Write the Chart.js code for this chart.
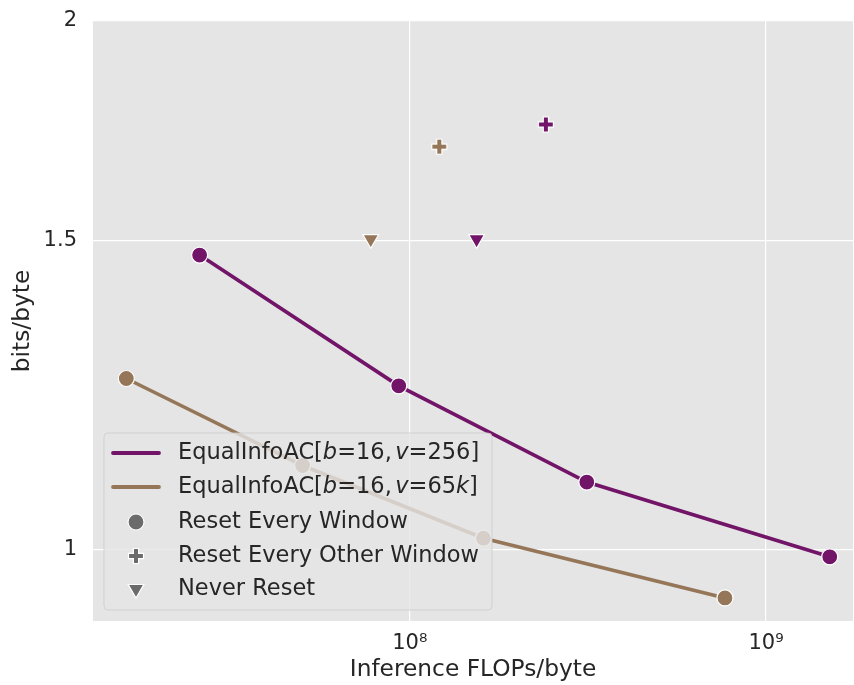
<!DOCTYPE html>
<html>
<head>
<meta charset="utf-8">
<script src="https://cdn.jsdelivr.net/npm/chart.js@4.4.0/dist/chart.umd.min.js"></script>
<style>
  html, body { margin: 0; padding: 0; background: #fff; }
  #wrap { width: 854px; height: 685px; }
</style>
</head>
<body>
<div id="wrap"><canvas id="chart" width="854" height="685"></canvas></div>
<script>
// --- data ---
const flops256 = [2.57e7, 9.31e7, 3.14e8, 1.51e9];
const bpb256 = [1.471, 1.239, 1.092, 0.990];
const flops65k = [1.60e7, 5.0e7, 1.61e8, 7.67e8];
const bpb65k = [1.251, 1.116, 1.0145, 0.938];

const otherFlops256 = [2.41e8];
const otherBpb256 = [1.746];
const otherFlops65k = [1.21e8];
const otherBpb65k = [1.696];

const neverFlops256 = [1.54e8];
const neverBpb256 = [1.502];
const neverFlops65k = [7.77e7];
const neverBpb65k = [1.502];

const yTicks = [1, 1.5, 2];
const yTickLabels = ['1', '1.5', '2'];
const xTicks = [1e8, 1e9];
const xTickLabels = ['10\u2078', '10\u2079'];

// legend texts: [text, italic?, gap after]
const legendSeries256 = [['EqualInfoAC[', false, 0], ['b', true, 0], ['=16,', false, 3.5], ['v', true, 0], ['=256]', false, 0]];
const legendSeries65k = [['EqualInfoAC[', false, 0], ['b', true, 0], ['=16,', false, 3.5], ['v', true, 0], ['=65', false, 0], ['k', true, 0], [']', false, 0]];
const legendMarkers = ['Reset Every Window', 'Reset Every Other Window', 'Never Reset'];

const PURPLE = '#721468';
const BROWN = '#957659';
const GREY = '#6b6b6b';
const TEXT = '#262626';
const FONT = "'DejaVu Sans', sans-serif";
const LEGEND_SIZE = 22.5;

// filled plus marker with white edge
function makePlus(color) {
    const c = document.createElement('canvas');
    c.width = 22; c.height = 22;
    const g = c.getContext('2d');
    const a = 7.5, t = 2.6, m = 11;
    g.beginPath();
    g.moveTo(m - t, m - a); g.lineTo(m + t, m - a); g.lineTo(m + t, m - t);
    g.lineTo(m + a, m - t); g.lineTo(m + a, m + t); g.lineTo(m + t, m + t);
    g.lineTo(m + t, m + a); g.lineTo(m - t, m + a); g.lineTo(m - t, m + t);
    g.lineTo(m - a, m + t); g.lineTo(m - a, m - t); g.lineTo(m - t, m - t);
    g.closePath();
    g.fillStyle = color;
    g.fill();
    g.strokeStyle = '#ffffff';
    g.lineWidth = 1.2;
    g.stroke();
    return c;
}

function pts(xs, ys) {
    return xs.map((x, i) => ({ x: x, y: ys[i] }));
}

function lineSet(xs, ys, color) {
    return {
        data: pts(xs, ys),
        showLine: true,
        borderColor: color,
        borderWidth: 3.6,
        backgroundColor: color,
        pointBackgroundColor: color,
        pointBorderColor: '#ffffff',
        pointBorderWidth: 1.2,
        pointRadius: 8,
        pointStyle: 'circle',
        order: 2
    };
}

function markerSet(xs, ys, color, style, radius, rotation) {
    return {
        data: pts(xs, ys),
        showLine: false,
        backgroundColor: color,
        pointBackgroundColor: color,
        pointBorderColor: '#ffffff',
        pointBorderWidth: 1.2,
        pointRadius: radius,
        pointStyle: style,
        rotation: rotation || 0,
        order: 1
    };
}

// grey axes background
const bgPlugin = {
    id: 'bg',
    beforeDraw(chart) {
        const { ctx, chartArea: a } = chart;
        ctx.save();
        ctx.fillStyle = '#e5e5e5';
        ctx.fillRect(a.left, a.top, a.right - a.left, a.bottom - a.top);
        ctx.restore();
    }
};

function drawPieces(ctx, pieces, x, y) {
    let cx = x;
    pieces.forEach(([txt, it, gap]) => {
        ctx.font = (it ? 'oblique ' : '') + LEGEND_SIZE + 'px ' + FONT;
        ctx.fillText(txt, cx, y);
        cx += ctx.measureText(txt).width + gap;
    });
}

// legend drawn inside the axes, lower left
const legendPlugin = {
    id: 'innerLegend',
    afterDatasetsDraw(chart) {
        const ctx = chart.ctx;
        const bx = 104, by = 433, bw = 388, bh = 177;
        ctx.save();
        ctx.beginPath();
        ctx.roundRect(bx, by, bw, bh, 4);
        ctx.fillStyle = 'rgba(229,229,229,0.8)';
        ctx.fill();
        ctx.strokeStyle = 'rgba(204,204,204,0.8)';
        ctx.lineWidth = 1;
        ctx.stroke();

        const rows = [453, 487, 522, 556, 589];
        const textX = 178, markX = 136;
        ctx.textBaseline = 'middle';
        ctx.textAlign = 'left';

        // series lines
        [[PURPLE, legendSeries256], [BROWN, legendSeries65k]].forEach(([col, pieces], i) => {
            ctx.strokeStyle = col;
            ctx.lineWidth = 3.8;
            ctx.lineCap = 'round';
            ctx.beginPath();
            ctx.moveTo(113, rows[i]);
            ctx.lineTo(159, rows[i]);
            ctx.stroke();
            ctx.fillStyle = TEXT;
            drawPieces(ctx, pieces, textX, rows[i]);
        });

        // marker styles
        ctx.fillStyle = GREY;
        ctx.strokeStyle = '#ffffff';
        ctx.lineWidth = 1.2;
        Chart.helpers.drawPoint(ctx, { pointStyle: 'circle', radius: 8, borderWidth: 1.2, rotation: 0 }, markX, rows[2]);
        ctx.drawImage(greyPlus, markX - 11, rows[3] - 11);
        ctx.fillStyle = GREY;
        ctx.strokeStyle = '#ffffff';
        Chart.helpers.drawPoint(ctx, { pointStyle: 'triangle', radius: 9, borderWidth: 1.2, rotation: 180 }, markX, rows[4]);

        ctx.fillStyle = TEXT;
        ctx.font = LEGEND_SIZE + 'px ' + FONT;
        legendMarkers.forEach((t, i) => ctx.fillText(t, textX, rows[i + 2]));
        ctx.restore();
    }
};

const greyPlus = makePlus(GREY);

new Chart(document.getElementById('chart'), {
    type: 'scatter',
    data: {
        datasets: [
            lineSet(flops256, bpb256, PURPLE),
            lineSet(flops65k, bpb65k, BROWN),
            markerSet(otherFlops256, otherBpb256, PURPLE, makePlus(PURPLE), 11),
            markerSet(otherFlops65k, otherBpb65k, BROWN, makePlus(BROWN), 11),
            markerSet(neverFlops256, neverBpb256, PURPLE, 'triangle', 9, 180),
            markerSet(neverFlops65k, neverBpb65k, BROWN, 'triangle', 9, 180)
        ]
    },
    options: {
        responsive: false,
        devicePixelRatio: 1,
        animation: false,
        clip: false,
        layout: { autoPadding: false, padding: { top: 21, right: 1, left: 0, bottom: 0 } },
        plugins: {
            legend: { display: false },
            tooltip: { enabled: false }
        },
        scales: {
            x: {
                type: 'logarithmic',
                min: 1.29e7,
                max: 1.755e9,
                afterFit(scale) {
                    scale.height = 64;
                    scale.paddingLeft = 0;
                    scale.paddingRight = 0;
                },
                afterBuildTicks(scale) { scale.ticks = xTicks.map(v => ({ value: v })); },
                grid: { color: '#ffffff', lineWidth: 1.2, drawTicks: false },
                border: { display: false },
                ticks: {
                    padding: 10,
                    color: TEXT,
                    font: { family: FONT, size: 21 },
                    maxRotation: 0,
                    autoSkip: false,
                    callback: (v) => xTickLabels[xTicks.indexOf(v)]
                },
                title: {
                    display: true,
                    text: 'Inference FLOPs/byte',
                    color: TEXT,
                    font: { family: FONT, size: 23.3 },
                    padding: { top: 0, bottom: 1 }
                }
            },
            y: {
                type: 'logarithmic',
                min: 0.91,
                max: 2,
                afterFit(scale) {
                    scale.width = 93;
                    scale.paddingTop = 0;
                    scale.paddingBottom = 0;
                },
                afterBuildTicks(scale) { scale.ticks = yTicks.map(v => ({ value: v })); },
                grid: { color: '#ffffff', lineWidth: 1.2, drawTicks: false },
                border: { display: false },
                ticks: {
                    padding: 16,
                    color: TEXT,
                    font: { family: FONT, size: 21 },
                    autoSkip: false,
                    callback: (v) => yTickLabels[yTicks.indexOf(v)]
                },
                title: {
                    display: true,
                    text: 'bits/byte',
                    color: TEXT,
                    font: { family: FONT, size: 23.3 },
                    padding: { top: 9, bottom: 0 }
                }
            }
        }
    },
    plugins: [bgPlugin, legendPlugin]
});
</script>
</body>
</html>
